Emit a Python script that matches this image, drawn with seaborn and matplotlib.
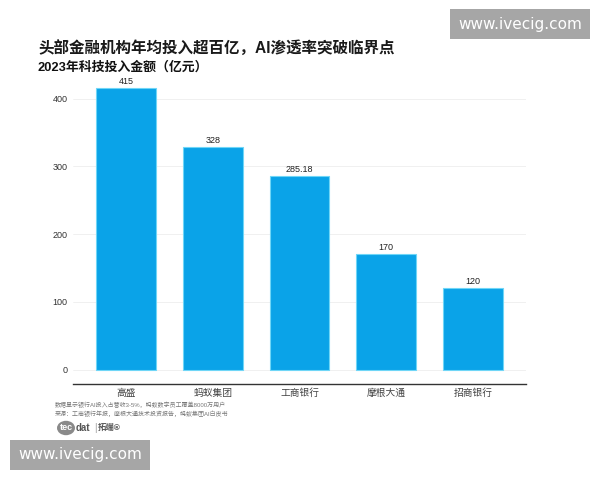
import matplotlib
matplotlib.use("Agg")
import matplotlib.pyplot as plt
import seaborn as sns
import pandas as pd
from matplotlib.patches import Rectangle, Circle

categories = ["高盛", "蚂蚁集团", "工商银行", "摩根大通", "招商银行"]
values = [415, 328, 285.18, 170, 120]
value_labels = ["415", "328", "285.18", "170", "120"]
y_ticks = [0, 100, 200, 300, 400]

title = "头部金融机构年均投入超百亿，AI渗透率突破临界点"
subtitle = "2023年科技投入金额（亿元）"
note1 = "数据显示银行AI投入占营收3-5%，蚂蚁数字员工覆盖8000万用户"
note2 = "来源：工商银行年报，摩根大通技术投资报告，蚂蚁集团AI白皮书"
watermark = "www.ivecig.com"

sns.set_theme(style="white")
plt.rcParams['font.family'] = ['Liberation Sans', 'Noto Sans CJK SC', 'DejaVu Sans']

df = pd.DataFrame({"company": categories, "amount": values})

fig = plt.figure(figsize=(6, 4.8), dpi=100)
ax = fig.add_axes([0.1217, 0.2, 0.755, 0.64])

sns.barplot(data=df, x="company", y="amount", ax=ax, color="#0aa3e8",
            width=0.69, edgecolor="#6fd6f7", linewidth=0.8, saturation=1)

for i, (v, lab) in enumerate(zip(values, value_labels)):
    ax.text(i, v + 3, lab, ha="center", va="bottom", fontsize=6.5, color="#222222")

ax.set_xlim(-0.61, 4.61)
ax.set_ylim(-21, 432)
ax.set_yticks(y_ticks)
ax.set_yticklabels([str(t) for t in y_ticks], fontsize=6.5, color="#333333")
ax.tick_params(axis="x", labelsize=7, colors="#444444", length=0, pad=3)
ax.tick_params(axis="y", length=0, pad=4)
ax.set_xlabel("")
ax.set_ylabel("")
for t in y_ticks:
    ax.axhline(t, color="#eeeeee", linewidth=0.6, zorder=0)
for s in ["top", "right", "left"]:
    ax.spines[s].set_visible(False)
ax.spines["bottom"].set_color("#333333")
ax.spines["bottom"].set_linewidth(1.0)

fig.text(38 / 600, 1 - 48 / 480, title, fontsize=11.2, fontweight="bold",
         color="#1a1a1a", va="center", ha="left")
fig.text(38 / 600, 1 - 67 / 480, subtitle, fontsize=9.3, fontweight="bold",
         color="#111111", va="center", ha="left")
fig.text(55 / 600, 1 - 405 / 480, note1, fontsize=4.3, color="#777777", va="center", ha="left")
fig.text(55 / 600, 1 - 414 / 480, note2, fontsize=4.3, color="#777777", va="center", ha="left")

# logo
fig.patches.append(Circle((66 / 600, 1 - 428 / 480), 9 / 600, transform=fig.transFigure,
                          facecolor="#8a8a8a", edgecolor="none"))
fig.text(66 / 600, 1 - 428 / 480, "tec", fontsize=6.5, color="white", ha="center", va="center", fontweight="bold")
fig.text(76 / 600, 1 - 428 / 480, "dat", fontsize=7, color="#555555", ha="left", va="center", fontweight="bold")
fig.text(94 / 600, 1 - 428 / 480, "|", fontsize=7, color="#999999", ha="left", va="center")
fig.text(98 / 600, 1 - 428 / 480, "拓端®", fontsize=6, color="#555555", ha="left", va="center", fontweight="bold")

# watermarks
fig.patches.append(Rectangle((450 / 600, 1 - 39 / 480), 140 / 600, 30 / 480,
                             transform=fig.transFigure, facecolor="#a6a6a6", edgecolor="none"))
fig.text(520 / 600, 1 - 24 / 480, watermark, fontsize=11, color="white", ha="center", va="center",
         family="DejaVu Sans")
fig.patches.append(Rectangle((10 / 600, 1 - 470 / 480), 140 / 600, 30 / 480,
                             transform=fig.transFigure, facecolor="#a6a6a6", edgecolor="none"))
fig.text(80 / 600, 1 - 455 / 480, watermark, fontsize=11, color="white", ha="center", va="center",
         family="DejaVu Sans")

fig.savefig("out.png", dpi=100)
